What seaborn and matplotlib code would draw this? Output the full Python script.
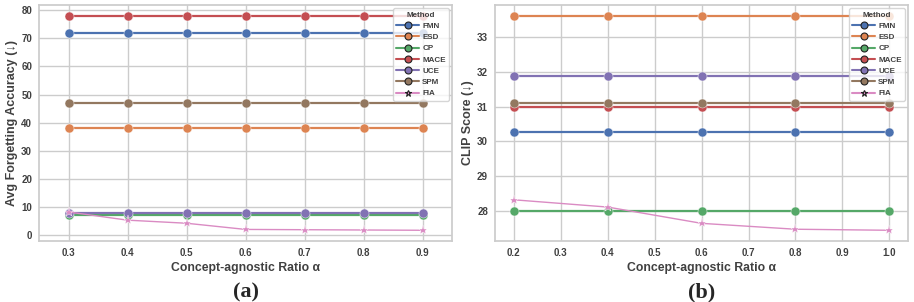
import matplotlib
matplotlib.use('Agg')
import matplotlib.pyplot as plt
import seaborn as sns
import pandas as pd

methods = ['FMN', 'ESD', 'CP', 'MACE', 'UCE', 'SPM', 'FIA']

# (a) Avg Forgetting Accuracy vs ratio
alpha_a = [0.3, 0.4, 0.5, 0.6, 0.7, 0.8, 0.9]
acc = {
    'FMN': [72, 72, 72, 72, 72, 72, 72],
    'ESD': [38, 38, 38, 38, 38, 38, 38],
    'CP': [7, 7, 7, 7, 7, 7, 7],
    'MACE': [78, 78, 78, 78, 78, 78, 78],
    'UCE': [8, 8, 8, 8, 8, 8, 8],
    'SPM': [47, 47, 47, 47, 47, 47, 47],
    'FIA': [8.2, 5.3, 4.2, 2.0, 1.9, 1.8, 1.7],
}

# (b) CLIP score vs ratio
alpha_b = [0.2, 0.4, 0.6, 0.8, 1.0]
clip = {
    'FMN': [30.28, 30.28, 30.28, 30.28, 30.28],
    'ESD': [33.62, 33.62, 33.62, 33.62, 33.62],
    'CP': [28.0, 28.0, 28.0, 28.0, 28.0],
    'MACE': [30.98, 30.98, 30.98, 30.98, 30.98],
    'UCE': [31.89, 31.89, 31.89, 31.89, 31.89],
    'SPM': [31.1, 31.1, 31.1, 31.1, 31.1],
    'FIA': [28.31, 28.1, 27.63, 27.46, 27.43],
}


def long_form(xs, table):
    rows = []
    for m in methods:
        for x, v in zip(xs, table[m]):
            rows.append({'alpha': x, 'value': v, 'Method': m})
    return pd.DataFrame(rows)


sns.set_theme(style='whitegrid')
plt.rcParams['font.family'] = ['Liberation Sans', 'DejaVu Sans']
plt.rcParams['font.weight'] = 'bold'
plt.rcParams['axes.labelweight'] = 'bold'

palette = dict(zip(methods, sns.color_palette('deep', 7)))
markers = {m: 'o' for m in methods}
markers['FIA'] = '*'
sizes = {m: 1.6 for m in methods}
sizes['FIA'] = 1.0

fig = plt.figure(figsize=(9.14, 3.02), dpi=100)
ax1 = fig.add_axes([0.0427, 0.202, 0.452, 0.781])
ax2 = fig.add_axes([0.5416, 0.202, 0.452, 0.781])


def draw(ax, df, ylabel, tag):
    sns.lineplot(data=df, x='alpha', y='value', hue='Method', style='Method',
                 size='Method', sizes=sizes, markers=markers, dashes=False,
                 palette=palette, markersize=6.5, markeredgecolor='white',
                 markeredgewidth=0.3, ax=ax)
    ax.set_xlabel('Concept-agnostic Ratio α', fontsize=8.8, fontweight='bold',
                  color='#404040', labelpad=3)
    ax.set_ylabel(ylabel, fontsize=9, fontweight='bold', color='#404040')
    ax.yaxis.set_label_coords(-0.052, 0.5)
    ax.tick_params(axis='both', labelsize=7, colors='#404040', length=0, pad=5)
    for t in ax.get_xticklabels() + ax.get_yticklabels():
        t.set_fontweight('bold')
    leg = ax.legend(title='Method', loc='upper right', fontsize=5.8,
                    title_fontsize=5.8, borderpad=0.4, labelspacing=0.45,
                    handlelength=2.8, handletextpad=0.4, borderaxespad=0.4,
                    framealpha=0.8)
    leg.get_title().set_fontweight('bold')
    leg.get_title().set_color('#404040')
    for h in leg.legend_handles:
        h.set_markeredgecolor('#222222')
        h.set_markeredgewidth(0.8)
        h.set_markersize(5)
        h.set_linewidth(1.5)
    for t in leg.get_texts():
        t.set_fontweight('bold')
        t.set_color('#404040')
    pos = ax.get_position()
    fig.text(pos.x0 + pos.width / 2, 0.033, tag, ha='center', va='center',
             fontsize=16, fontweight='bold', family='Liberation Serif')


draw(ax1, long_form(alpha_a, acc), 'Avg Forgetting Accuracy (↓)', '(a)')
ax1.set_xticks(alpha_a)
ax1.set_xlim(0.25, 0.95)

draw(ax2, long_form(alpha_b, clip), 'CLIP Score (↓)', '(b)')
ax2.set_xticks([0.2, 0.3, 0.4, 0.5, 0.6, 0.7, 0.8, 0.9, 1.0])

fig.savefig('out.png', dpi=100)
